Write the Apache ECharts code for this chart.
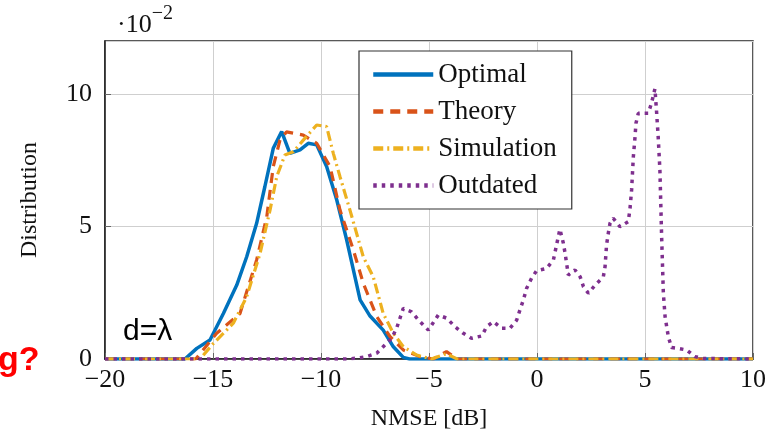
<!DOCTYPE html>
<html>
<head>
<meta charset="utf-8">
<script src="https://cdn.jsdelivr.net/npm/echarts@6/dist/echarts.min.js"></script>
<style>
  html, body { margin: 0; padding: 0; background: #fff; }
  #chart { width: 775px; height: 437px; }
</style>
</head>
<body>
<div id="chart"></div>
<script>
// NMSE [dB] 和 分布值 (单位 10^-2)
var optimalX = [-20, -16.3, -15.75, -15.14, -14.52, -13.9, -13.44, -12.98, -12.6, -12.21, -11.82, -11.44, -10.97, -10.59, -10.2, -9.74, -9.27, -8.81, -8.19, -7.73, -7.12, -6.65, -6.19, -5.9, 10];
var optimalY = [0, 0, 0.40, 0.72, 1.72, 2.79, 3.86, 5.12, 6.5, 7.95, 8.58, 7.76, 7.89, 8.14, 8.08, 7.26, 6.0, 4.49, 2.23, 1.62, 1.09, 0.46, 0.06, 0, 0];

var theoryX = [-20, -15.8, -15.3, -14.83, -13.75, -12.98, -12.51, -12.21, -11.9, -11.6, -10.82, -10.2, -9.58, -9.12, -8.5, -8.04, -7.42, -6.8, -6.19, -5.42, -4.8, -4.19, -3.7, 10];
var theoryY = [0, 0, 0.5, 0.97, 1.72, 3.74, 5.37, 7.26, 8.26, 8.57, 8.45, 8.14, 7.26, 5.62, 4.11, 2.85, 1.6, 0.84, 0.34, 0.09, 0, 0.28, 0, 0];

var simulationX = [-20, -15.6, -14.98, -14.06, -13.44, -12.82, -12.36, -12.05, -11.67, -11.28, -10.82, -10.2, -9.74, -9.43, -9.12, -8.66, -8.04, -7.58, -7.12, -6.65, -6.19, -5.57, -4.9, -4.2, -3.7, 10];
var simulationY = [0, 0, 0.59, 1.35, 2.35, 3.99, 5.62, 6.88, 7.7, 7.82, 8.26, 8.83, 8.77, 7.76, 6.88, 5.62, 3.85, 3.1, 1.72, 0.97, 0.46, 0.15, 0, 0.2, 0, 0];

var outdatedX = [-20, -8.8, -8.35, -7.89, -7.42, -7.04, -6.73, -6.5, -6.19, -5.81, -5.42, -5.03, -4.57, -4.18, -3.8, -3.41, -3.03, -2.56, -2.33, -2.02, -1.64, -1.25, -0.94, -0.79, -0.63, -0.48, -0.25, -0.02, 0.45, 0.76, 1.06, 1.22, 1.3, 1.37, 1.45, 1.76, 2.0, 2.15, 2.38, 2.69, 3.07, 3.15, 3.22, 3.3, 3.38, 3.53, 3.84, 4.22, 4.3, 4.38, 4.46, 4.54, 4.58, 4.69, 5.15, 5.3, 5.46, 5.53, 5.61, 5.69, 5.77, 5.85, 5.93, 6.08, 6.23, 6.54, 6.93, 7.31, 7.7, 10];
var outdatedY = [0, 0, 0.03, 0.09, 0.22, 0.53, 0.78, 1.16, 1.91, 1.78, 1.41, 1.09, 1.66, 1.54, 1.22, 0.97, 0.78, 0.87, 1.22, 1.41, 1.16, 1.16, 1.47, 1.85, 2.23, 2.67, 3.05, 3.33, 3.42, 3.74, 4.9, 4.37, 3.99, 3.61, 3.17, 3.36, 3.1, 2.73, 2.48, 2.79, 3.1, 3.48, 4.3, 4.74, 5.12, 5.31, 4.99, 5.18, 5.62, 6.38, 7.63, 8.39, 8.89, 9.27, 9.27, 9.65, 10.2, 9.4, 8.39, 7.13, 4.62, 2.48, 1.6, 0.84, 0.43, 0.4, 0.34, 0.09, 0.02, 0];

var xTicks = [-20, -15, -10, -5, 0, 5, 10];
var yTicks = [0, 5, 10];

function pairs(xs, ys) {
  return xs.map(function (x, i) { return [x, ys[i]]; });
}

var serif = "'Liberation Serif', 'DejaVu Serif', serif";

var myChart = echarts.init(document.getElementById("chart"));
var option = {
  animation: false,
  backgroundColor: "#fff",
  grid: {
    left: 105,
    right: 22,
    top: 41,
    bottom: 78,
    show: true,
    borderColor: "#222",
    borderWidth: 1.5,
  },
  legend: {
    orient: "vertical",
    left: 359,
    top: 51,
    backgroundColor: "#fff",
    borderColor: "#333",
    borderWidth: 1.2,
    padding: [10, 15, 10, 12],
    itemWidth: 60,
    itemHeight: 14,
    itemGap: 10,
    itemStyle: { opacity: 0 },
    lineStyle: { width: 4.5 },
    textStyle: { fontFamily: serif, fontSize: 27, color: "#111" },
    data: ["Optimal", "Theory", "Simulation", "Outdated"],
  },
  xAxis: {
    type: "value",
    min: -20,
    max: 10,
    interval: 5,
    name: "NMSE [dB]",
    nameLocation: "middle",
    nameGap: 48,
    nameTextStyle: { fontFamily: serif, fontSize: 24, color: "#111" },
    axisLine: { show: true, onZero: false, lineStyle: { color: "#222", width: 1.5 } },
    axisTick: { show: true, inside: true, length: 6, lineStyle: { color: "#666" } },
    axisLabel: {
      fontFamily: serif,
      fontSize: 26,
      color: "#111",
      margin: 8,
      formatter: function (v) {
        return xTicks.indexOf(v) >= 0 ? String(v).replace("-", "\u2212") : "";
      },
    },
    splitLine: { show: true, lineStyle: { color: "#cfcfcf", width: 1 } },
  },
  yAxis: {
    type: "value",
    min: 0,
    max: 12,
    interval: 5,
    name: "Distribution",
    nameLocation: "middle",
    nameGap: 63,
    nameTextStyle: { fontFamily: serif, fontSize: 24, color: "#111" },
    axisLine: { show: true, onZero: false, lineStyle: { color: "#222", width: 1.5 } },
    axisTick: { show: true, inside: true, length: 6, lineStyle: { color: "#666" } },
    axisLabel: {
      fontFamily: serif,
      fontSize: 26,
      color: "#111",
      margin: 13,
      showMaxLabel: false,
      formatter: function (v) {
        return yTicks.indexOf(v) >= 0 ? String(v) : "";
      },
    },
    splitLine: { show: true, lineStyle: { color: "#cfcfcf", width: 1 } },
  },
  graphic: {
    elements: [
      {
        type: "text",
        left: 117,
        top: 4,
        style: {
          text: "{a|·10}{b|\u22122}",
          rich: {
            a: { fontFamily: serif, fontSize: 26, fill: "#111", padding: [14, 0, 0, 0] },
            b: { fontFamily: serif, fontSize: 20, fill: "#111", padding: [0, 0, 8, 0] },
          },
        },
      },
      {
        type: "text",
        left: 123,
        top: 317,
        z: 100,
        style: {
          text: "d=λ",
          fontFamily: "'Liberation Sans', Arial, sans-serif",
          fontSize: 30,
          fill: "#000",
        },
      },
      {
        type: "text",
        left: -2,
        top: 344,
        style: {
          text: "g?",
          fontFamily: "'Liberation Sans', Arial, sans-serif",
          fontWeight: "bold",
          fontSize: 34,
          fill: "#ff0000",
        },
      },
    ],
  },
  series: [
    {
      name: "Optimal",
      type: "line",
      data: pairs(optimalX, optimalY),
      showSymbol: false,
      symbol: "none",
      lineStyle: { color: "#0072BD", width: 3.5, type: "solid" },
      itemStyle: { color: "#0072BD" },
    },
    {
      name: "Theory",
      type: "line",
      data: pairs(theoryX, theoryY),
      showSymbol: false,
      symbol: "none",
      lineStyle: { color: "#D95319", width: 3.2, type: [10, 7] },
      itemStyle: { color: "#D95319" },
    },
    {
      name: "Simulation",
      type: "line",
      data: pairs(simulationX, simulationY),
      showSymbol: false,
      symbol: "none",
      lineStyle: { color: "#EDB120", width: 3.2, type: [10, 4, 2, 4] },
      itemStyle: { color: "#EDB120" },
    },
    {
      name: "Outdated",
      type: "line",
      data: pairs(outdatedX, outdatedY),
      showSymbol: false,
      symbol: "none",
      lineStyle: { color: "#7E2F8E", width: 3.5, type: [3.5, 5] },
      itemStyle: { color: "#7E2F8E" },
    },
  ],
};
myChart.setOption(option);
</script>
</body>
</html>
